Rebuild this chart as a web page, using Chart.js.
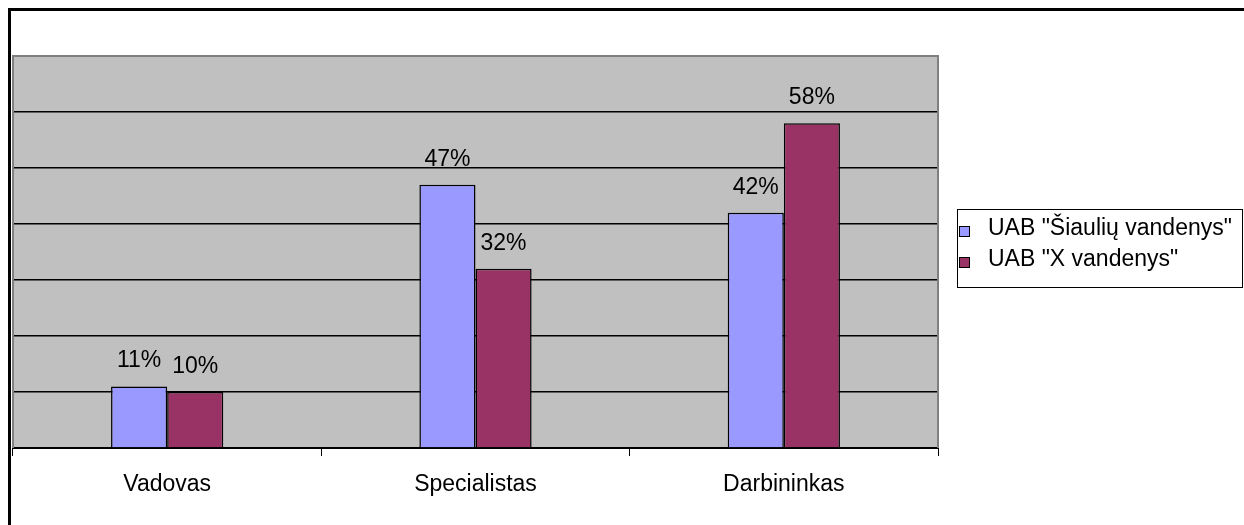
<!DOCTYPE html>
<html>
<head>
<meta charset="utf-8">
<script src="https://cdn.jsdelivr.net/npm/chart.js@4.4.1/dist/chart.umd.min.js"></script>
<style>
  body { margin: 0; background: #fff; }
  #wrap { position: relative; width: 1244px; height: 525px; }
  #frame { position: absolute; left: 8px; top: 8px; right: -10px; bottom: -10px; border-left: 3px solid #000; border-top: 3px solid #000; }
  canvas { position: absolute; left: 0; top: 0; }
</style>
</head>
<body>
<div id="wrap">
  <div id="frame"></div>
  <canvas id="bar-chart" width="1244" height="525"></canvas>
</div>
<script>
const categories = ["Vadovas", "Specialistas", "Darbininkas"];
const seriesNames = ['UAB "Šiaulių vandenys"', 'UAB "X vandenys"'];
const siauliai = [11, 47, 42];
const xVandenys = [10, 32, 58];
const yTicks = [0, 10, 20, 30, 40, 50, 60, 70];

const FONT = "'Liberation Sans', Arial, sans-serif";
const FONT_SIZE = 23;

// grey plot area with a thin frame on three sides
const plotBack = {
    id: 'plotBack',
    beforeDraw(chart) {
        const a = chart.chartArea, ctx = chart.ctx;
        ctx.save();
        ctx.fillStyle = '#c0c0c0';
        ctx.fillRect(a.left, a.top, a.right - a.left, a.bottom - a.top);
        ctx.restore();
    },
    afterDraw(chart) {
        const a = chart.chartArea, ctx = chart.ctx;
        ctx.save();
        ctx.strokeStyle = '#808080';
        ctx.lineWidth = 2;
        ctx.beginPath();
        ctx.moveTo(a.left, a.bottom);
        ctx.lineTo(a.left, a.top);
        ctx.lineTo(a.right, a.top);
        ctx.lineTo(a.right, a.bottom);
        ctx.stroke();
        ctx.restore();
    }
};

// percentage above each bar
const valueLabels = {
    id: 'valueLabels',
    afterDatasetsDraw(chart) {
        const ctx = chart.ctx;
        ctx.save();
        ctx.font = FONT_SIZE + 'px ' + FONT;
        ctx.fillStyle = '#000';
        ctx.textAlign = 'center';
        ctx.textBaseline = 'alphabetic';
        chart.data.datasets.forEach((ds, i) => {
            chart.getDatasetMeta(i).data.forEach((bar, j) => {
                ctx.fillText(ds.data[j] + '%', bar.x, bar.y - 19);
            });
        });
        ctx.restore();
    }
};

// boxed legend on the right
const sideLegend = {
    id: 'sideLegend',
    afterDraw(chart) {
        const ctx = chart.ctx;
        const x = 957, y = 209, w = 285, h = 78;
        ctx.save();
        ctx.strokeStyle = '#000';
        ctx.lineWidth = 1;
        ctx.strokeRect(x + 0.5, y + 0.5, w, h);
        ctx.font = FONT_SIZE + 'px ' + FONT;
        ctx.textBaseline = 'alphabetic';
        chart.data.datasets.forEach((ds, i) => {
            const ty = y + 26 + i * 31;
            ctx.fillStyle = ds.backgroundColor;
            ctx.fillRect(x + 2.5, ty - 8.5, 10, 10);
            ctx.strokeStyle = '#000';
            ctx.strokeRect(x + 2.5, ty - 8.5, 10, 10);
            ctx.fillStyle = '#000';
            ctx.fillText(ds.label, x + 31, ty);
        });
        ctx.restore();
    }
};

new Chart(document.getElementById("bar-chart"), {
    type: 'bar',
    data: {
        labels: categories,
        datasets: [
            {
                label: seriesNames[0],
                data: siauliai,
                backgroundColor: '#9999ff',
                borderColor: '#000',
                borderWidth: 1.5
            },
            {
                label: seriesNames[1],
                data: xVandenys,
                backgroundColor: '#993366',
                borderColor: '#000',
                borderWidth: 1.5
            }
        ]
    },
    options: {
        responsive: false,
        animation: false,
        categoryPercentage: 0.364,
        barPercentage: 1,
        layout: { padding: { left: 13, top: 56, right: 306, bottom: 0 } },
        plugins: {
            legend: { display: false },
            tooltip: { enabled: false }
        },
        scales: {
            y: {
                min: 0,
                max: 70,
                afterBuildTicks(axis) {
                    axis.ticks = yTicks.map(v => ({ value: v }));
                },
                afterFit(axis) { axis.width = 0; },
                ticks: { display: false },
                border: { display: false },
                grid: {
                    drawTicks: false,
                    color: ctx => ctx.tick.value === 70 ? 'rgba(0,0,0,0)' : '#000',
                    lineWidth: 1.5
                }
            },
            x: {
                afterFit(axis) { axis.height = 77; },
                border: { color: '#000', width: 2 },
                grid: {
                    offset: true,
                    drawOnChartArea: false,
                    drawTicks: true,
                    tickLength: 8,
                    color: '#000'
                },
                ticks: {
                    color: '#000',
                    padding: 15,
                    font: { family: FONT, size: FONT_SIZE }
                }
            }
        }
    },
    plugins: [plotBack, valueLabels, sideLegend]
});
</script>
</body>
</html>
